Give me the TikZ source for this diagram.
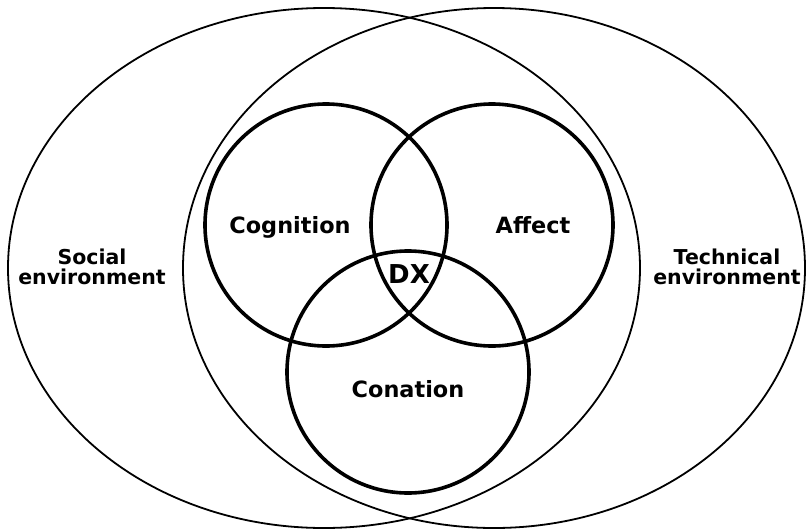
\documentclass[tikz,border=0pt]{standalone}
\usepackage{fontspec}
\setmainfont{DejaVu Sans}
\usetikzlibrary{shapes.geometric}
\begin{document}
\begin{tikzpicture}[x=1pt,y=-1pt,
  envring/.style={ellipse, draw, line width=1.8pt, inner sep=0pt, minimum width=#1, minimum height=520},
  facet/.style={circle, draw, line width=3.6pt, inner sep=0pt, minimum size=242},
  facetlabel/.style={anchor=base, inner sep=0pt, font=\bfseries\fontsize{22.4}{24}\selectfont},
  envlabel/.style={anchor=base, inner sep=0pt, align=center, font=\bfseries\fontsize{20.5}{20}\selectfont}]
\useasboundingbox (0,0) rectangle (807,531);
% outer environments
\node[envring=632] (social) at (324,268) {};
\node[envring=622] (technical) at (494,268) {};
% the three facets
\node[facet] (cognition) at (326,225) {};
\node[facet] (affect) at (492,225) {};
\node[facet] (conation) at (408,372) {};
% labels
\node[facetlabel] (cogtext) at (290,233) {Cognition};
\node[facetlabel] (afftext) at (533,233) {Affect};
\node[facetlabel] (context) at (408,397) {Conation};
\node[anchor=base, inner sep=0pt, font=\bfseries\fontsize{26}{28}\selectfont] (dx) at (409,283) {DX};
% two-line labels: the base anchor sits on the last line
\node[envlabel] (soctext) at (92,284) {Social\\environment};
\node[envlabel] (techtext) at (727,284) {Technical\\environment};
\end{tikzpicture}
\end{document}
